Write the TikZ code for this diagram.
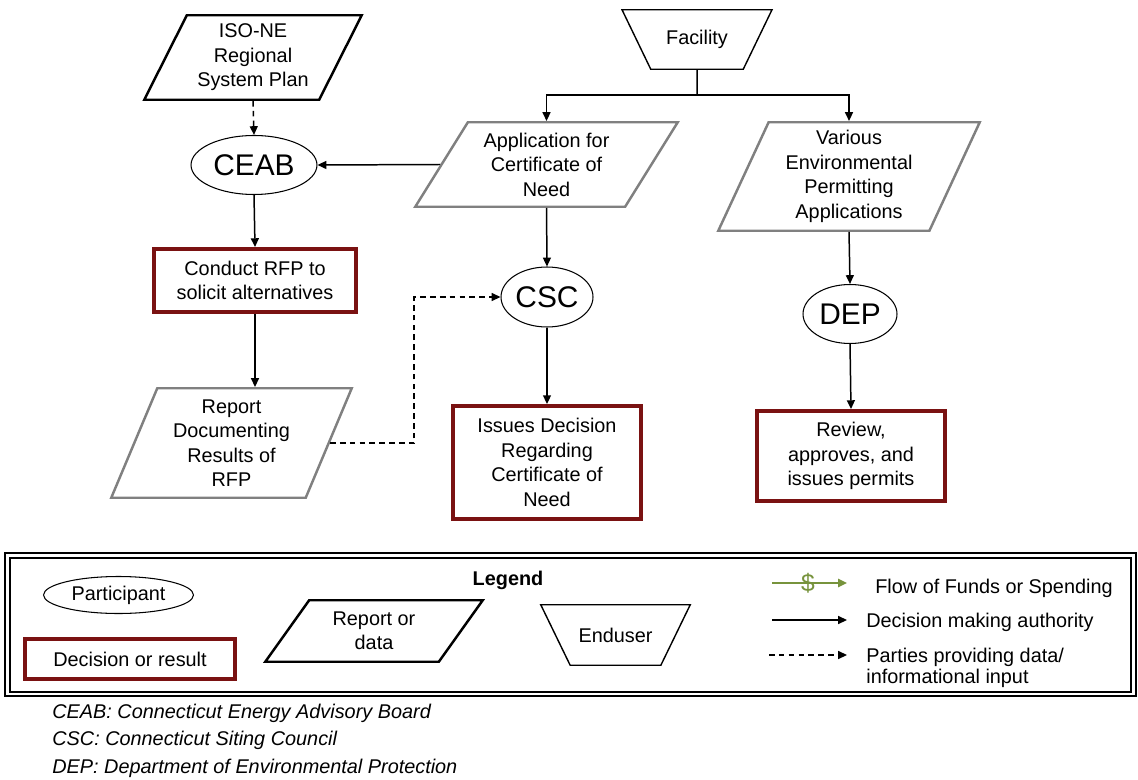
\documentclass[tikz,border=0pt]{standalone}
\usepackage{fontspec}
\setmainfont{Liberation Sans}
\usepackage{tikz}
\usetikzlibrary{positioning, arrows.meta, shapes.geometric}
\definecolor{decred}{RGB}{122,18,18}
\definecolor{docgray}{RGB}{128,128,128}
\definecolor{fundgreen}{RGB}{119,147,60}
\newcommand{\boxfont}{\fontsize{11.3}{13.9}\selectfont}
\newcommand{\orgfont}{\fontsize{17}{20}\selectfont}

\begin{document}
\begin{tikzpicture}[
    x=0.02cm, y=-0.02cm,
    party/.style={ellipse, draw, line width=0.6pt, inner sep=0pt, font=\orgfont},
    decision/.style={rectangle, draw=decred, line width=2.5pt, fill=white, align=center, font=\boxfont},
    doc/.style={trapezium, trapezium stretches body, draw=#1, line width=1.4pt, inner xsep=1pt, align=center, font=\boxfont},
    enduser/.style={trapezium, trapezium stretches body, shape border rotate=180, trapezium left angle=64, trapezium right angle=64, draw, line width=0.8pt, inner xsep=1pt, align=center, font=\boxfont},
    arr/.style={-{Triangle[length=5pt, width=4.5pt]}, line width=0.85pt},
    dataarr/.style={arr, dash pattern=on 3.2pt off 2.4pt},
    legtext/.style={inner sep=0pt, align=left, font=\boxfont},
]
\useasboundingbox (0,0) rectangle (1138,780);

% main flow
\node[doc=black, trapezium left angle=63, trapezium right angle=117, inner ysep=4.75pt, minimum width=4.35cm, minimum height=1.69cm] (iso) at (253,57.5) {ISO-NE\\Regional\\System Plan};
\node[enduser, inner ysep=11.5pt, minimum width=3.0cm, minimum height=1.19cm] (fac) at (697,39.5) {Facility};
\node[doc=docgray, trapezium left angle=58, trapezium right angle=122, inner ysep=5.9pt, minimum width=5.25cm, minimum height=1.69cm] (app) at (546.5,164.5) {Application for\\Certificate of\\Need};
\node[doc=docgray, trapezium left angle=65, trapezium right angle=115, inner ysep=4.6pt, minimum width=5.23cm, minimum height=2.17cm] (env) at (849,176.5) {Various\\Environmental\\Permitting\\Applications};
\node[party, minimum width=2.52cm, minimum height=1.18cm] (ceab) at (254,165) {CEAB};
\node[decision, minimum width=4.03cm, minimum height=1.25cm] (rfp) at (255,280.5) {Conduct RFP to\\solicit alternatives};
\node[doc=docgray, trapezium left angle=67, trapezium right angle=113, inner ysep=6.1pt, minimum width=4.81cm, minimum height=2.19cm] (rpt) at (231.5,443) {Report\\Documenting\\Results of\\RFP};
\node[party, minimum width=1.84cm, minimum height=1.2cm] (csc) at (547,297) {CSC};
\node[decision, minimum width=3.75cm, minimum height=2.25cm] (iss) at (547,462.5) {Issues Decision\\Regarding\\Certificate of\\Need};
\node[party, minimum width=1.88cm, minimum height=1.18cm] (dep) at (850,314) {DEP};
\node[decision, minimum width=3.75cm, minimum height=1.79cm] (rev) at (851,456) {Review,\\approves, and\\issues permits};

\coordinate (fsplit) at (697,95);
\draw[line width=0.85pt] (fac.south) -- (fsplit);
\draw[arr] (fsplit) -| (app.north);
\draw[arr] (fsplit) -| (env.north);
\draw[dataarr] (iso.south) -- (ceab.north);
\draw[arr] (app.west) -- (ceab.east);
\draw[arr] (ceab.south) -- (rfp.north);
\draw[arr] (rfp.south) -- (rfp.south |- rpt.north);
\draw[dataarr] (rpt.east) -- ++(84,0) |- (csc.west);
\draw[arr] (app.south) -- (csc.north);
\draw[arr] (csc.south) -- (iss.north);
\draw[arr] (env.south) -- (dep.north);
\draw[arr] (dep.south) -- (rev.north);

% legend
\draw[line width=1.3pt] (5,553) rectangle (1136,696);
\draw[line width=0.6pt] (10,558) rectangle (1131,692);
\node[font=\boxfont\bfseries] (leg) at (508,580) {Legend};
\node[party, font=\boxfont, minimum width=3.0cm, minimum height=0.74cm] (lpart) at (118.5,595) {Participant};
\node[decision, minimum width=4.19cm, minimum height=0.81cm] (ldec) at (130,659) {Decision or result};
\node[doc=black, trapezium left angle=54, trapezium right angle=126, inner ysep=6.3pt, minimum width=4.35cm, minimum height=1.23cm] (lrep) at (374,631) {Report or\\data};
\node[enduser, inner ysep=13pt, minimum width=2.99cm, minimum height=1.21cm] (lend) at (615.5,635) {Enduser};

\coordinate (fund1) at (772,583); \coordinate (fund2) at (847,583);
\coordinate (auth1) at (772,620); \coordinate (auth2) at (847,620);
\coordinate (data1) at (769,655); \coordinate (data2) at (847,655);
\draw[arr, draw=fundgreen, line width=1.2pt] (fund1) -- (fund2);
\node[text=fundgreen, inner sep=0pt, font=\fontsize{14}{14}\selectfont] (fsign) at (808,583) {\$};
\draw[arr] (auth1) -- (auth2);
\draw[dataarr] (data1) -- (data2);
\node[legtext, right=0.56cm of fund2, yshift=-0.1cm] (lfund) {Flow of Funds or Spending};
\node[legtext, right=0.38cm of auth2, yshift=-0.04cm] (lauth) {Decision making authority};
\node[legtext, font=\fontsize{11.3}{11.6}\selectfont, anchor=north west] (ldata) at (866,648) {Parties providing data/\\informational input};

% abbreviations
\node[anchor=west, align=left, inner sep=0pt, font=\fontsize{11.3}{15.6}\selectfont\itshape] (notes) at (52,740.5) {CEAB: Connecticut Energy Advisory Board\\CSC: Connecticut Siting Council\\DEP: Department of Environmental Protection};
\end{tikzpicture}
\end{document}
